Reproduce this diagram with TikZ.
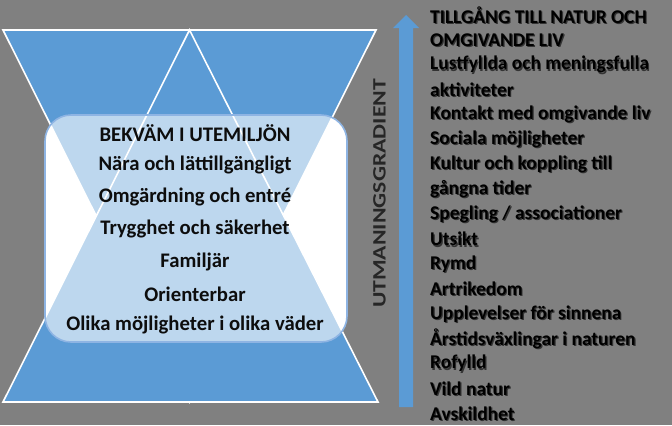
\documentclass[tikz,border=0pt]{standalone}
\usepackage{fontspec}
\usepackage{graphicx}
\setmainfont{Carlito}
\definecolor{bgGrey}{HTML}{808080}
\definecolor{triBlue}{HTML}{5B9BD5}
\definecolor{rectEdge}{HTML}{8EB4E3}
\definecolor{txtDark}{HTML}{0D0D0D}
\definecolor{shadowGrey}{HTML}{333333}
\tikzset{
  tri/.style={fill=triBlue, draw=white, line width=1.6pt, line join=miter},
  boxtxt/.style={font=\bfseries\fontsize{20.8}{24}\selectfont, text=txtDark, inner sep=0pt, anchor=center},
  listtxt/.style={font=\bfseries\fontsize{19.5}{24}\selectfont, text=black, inner sep=0pt, anchor=west},
  listshadow/.style={font=\bfseries\fontsize{19.5}{24}\selectfont, text=shadowGrey, inner sep=0pt, anchor=west},
}
\begin{document}
\begin{tikzpicture}[x=1bp,y=-1bp]
\useasboundingbox (0,0) rectangle (672,425);
\fill[bgGrey] (0,0) rectangle (672,425);
% white base under the box
\fill[white, rounded corners=26bp] (45,115) rectangle (347,342);
% inverted triangle
\draw[tri] (3,30) -- (376,30) -- (189.5,402) -- cycle;
% upright triangle
\draw[tri] (3,402) -- (378,402) -- (189.5,30) -- cycle;
% translucent box
\draw[fill=white, fill opacity=0.6, draw=rectEdge, line width=1.6pt, rounded corners=26bp] (45,115) rectangle (347,342);
% box texts
\node[boxtxt] (b1) at (195,133) {BEKVÄM I UTEMILJÖN};
\node[boxtxt] (b2) at (195,165) {Nära och lättillgängligt};
\node[boxtxt] (b3) at (195,197) {Omgärdning och entré};
\node[boxtxt] (b4) at (195,229) {Trygghet och säkerhet};
\node[boxtxt] (b5) at (195,262) {Familjär};
\node[boxtxt] (b6) at (195,294) {Orienterbar};
\node[boxtxt] (b7) at (195,325) {Olika möjligheter i olika väder};
% arrow
\fill[triBlue] (399,407) -- (413,407) -- (413,28) -- (419,28) -- (406,15) -- (393,28) -- (399,28) -- cycle;
% rotated label
\node[font=\bfseries\fontsize{19}{22}\selectfont, text=black!85, rotate=90, inner sep=0pt] (grad) at (379.5,193.5) {\scalebox{1.25}[1]{UTMANINGSGRADIENT}};
% right list
\foreach \t [count=\i from 0] in {TILLGÅNG TILL NATUR OCH, OMGIVANDE LIV, Lustfyllda och meningsfulla, aktiviteter, Kontakt med omgivande liv, Sociala möjligheter, Kultur och koppling till, gångna tider, Spegling / associationer, Utsikt, Rymd, Artrikedom, Upplevelser för sinnena, Årstidsväxlingar i naturen, Rofylld, Vild natur, Avskildhet}{
  \node[listshadow] (s\i) at (431.2,{15+\i*24.9+1.2}) {\t};
  \node[listtxt] (l\i) at (430,{15+\i*24.9}) {\t};
}
\end{tikzpicture}
\end{document}
